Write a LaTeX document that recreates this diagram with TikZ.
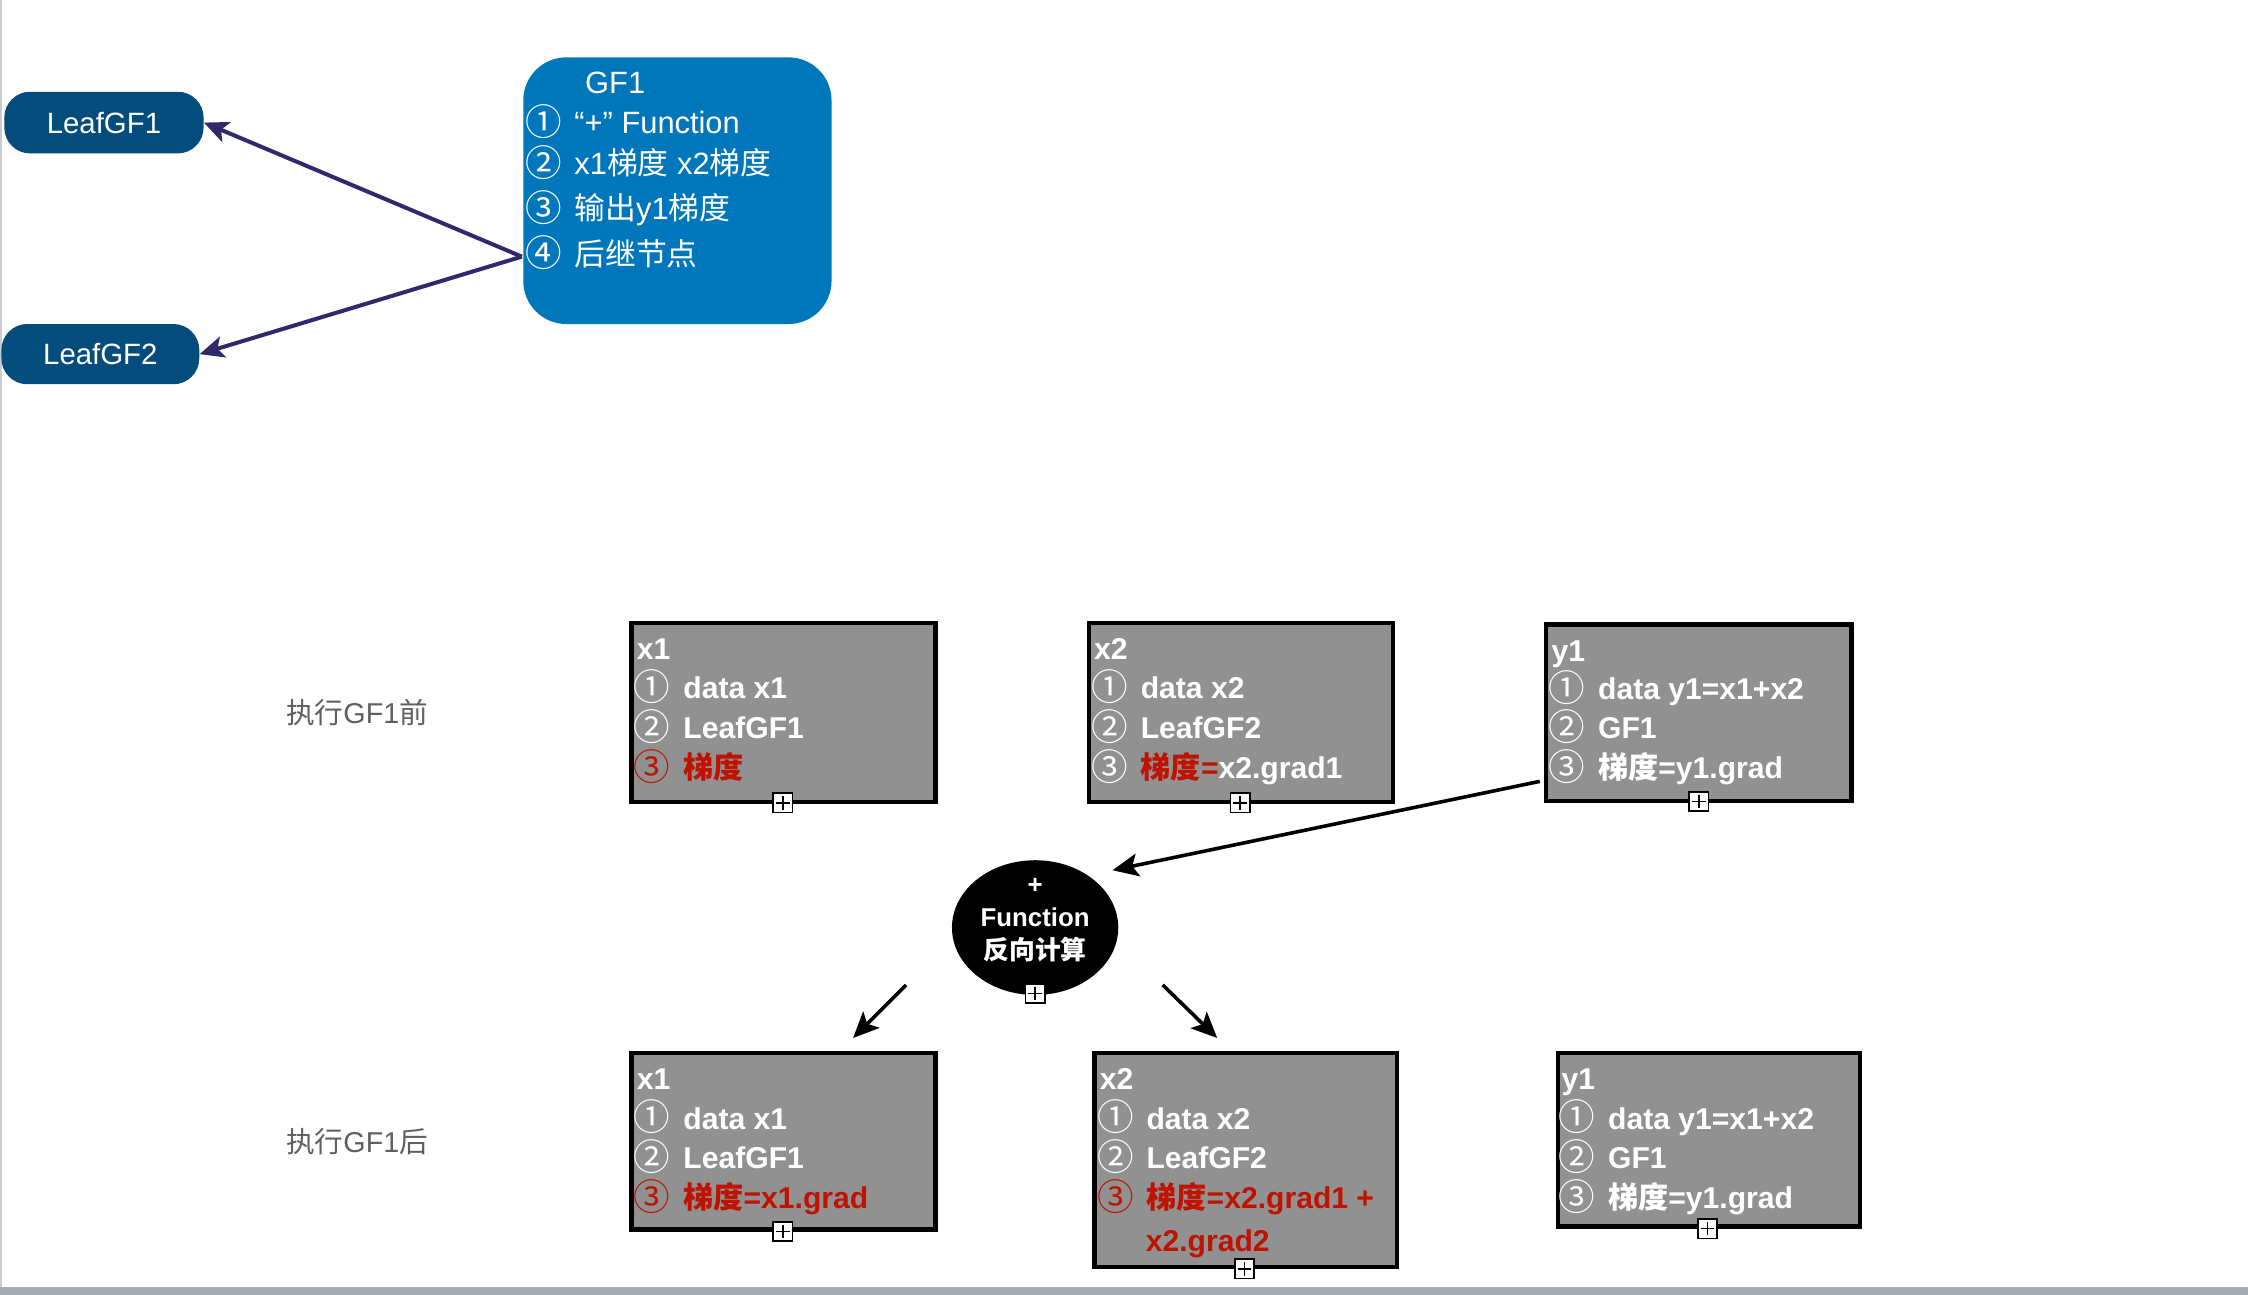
\documentclass[tikz,border=0pt]{standalone}
\usepackage{fontspec}
\setmainfont{Liberation Sans}
\newfontfamily\cjk{Noto Sans CJK SC}
\usetikzlibrary{arrows.meta,shapes.geometric}
\definecolor{leafblue}{RGB}{4,76,124}
\definecolor{gfblue}{RGB}{0,118,187}
\definecolor{navyline}{RGB}{47,42,107}
\definecolor{boxgray}{RGB}{145,145,145}
\definecolor{txtred}{RGB}{192,18,0}
\definecolor{lblgray}{RGB}{96,96,96}
\definecolor{edgegray}{RGB}{168,173,181}
\definecolor{leftgray}{RGB}{200,204,210}
\newcommand\zh[1]{{\cjk #1}}
\newcommand\cnum[1]{\raisebox{-1.2pt}{\cjk\mdseries\fontsize{25.5}{26}\selectfont #1}\hspace{9pt}}
\begin{document}
\begin{tikzpicture}[x=1pt,y=-1pt,
  leaf/.style={rectangle, rounded corners=18pt, fill=leafblue, text=white,
    font=\fontsize{20.5}{24}\selectfont, inner sep=0pt},
  gfbox/.style={rectangle, rounded corners=30pt, fill=gfblue, inner sep=0pt,
    minimum width=215pt, minimum height=186pt},
  gftxt/.style={anchor=base west, inner sep=0pt, text=white,
    font=\fontsize{21.5}{26}\selectfont},
  gbox/.style={rectangle, draw=black, line width=3pt, fill=boxgray,
    inner sep=0pt, anchor=north west},
  gtxt/.style={anchor=base west, inner sep=0pt, text=white,
    font=\bfseries\fontsize{21}{26}\selectfont},
  rtxt/.style={gtxt, text=txtred},
  lbl/.style={inner sep=0pt, text=lblgray, font=\fontsize{20}{24}\selectfont},
  plusbox/.style={rectangle, draw=black, fill=white, line width=1.1pt,
    minimum size=13.5pt, inner sep=0pt,
    path picture={
      \draw[line width=1pt] ([yshift=-2pt]path picture bounding box.north) -- ([yshift=2pt]path picture bounding box.south);
      \draw[line width=1pt] ([xshift=2pt]path picture bounding box.west) -- ([xshift=-2pt]path picture bounding box.east);
    }},
  navyarrow/.style={draw=navyline, line width=2.8pt,
    -{Stealth[length=17pt,width=15pt,inset=4pt]}},
  blkarrow/.style={draw=black, line width=2.5pt,
    -{Stealth[length=18pt,width=16pt,inset=4pt]}}
]
\useasboundingbox (0,0) rectangle (1568,903);
\fill[white] (0,0) rectangle (1568,903);
% frame edges
\fill[leftgray] (0,0) rectangle (1.5,898);
\fill[edgegray] (0,898) rectangle (1568,903);

% ---------- top part ----------
\node[leaf, minimum width=139pt, minimum height=43pt] (leaf1) at (72.5,85.5) {LeafGF1};
\node[leaf, minimum width=138pt, minimum height=42pt] (leaf2) at (70,247) {LeafGF2};
\node[gfbox] (gf1) at (472.5,133) {};
\node[gftxt] (gf1l0) at (408,65) {GF1};
\node[gftxt] (gf1l1) at (366,93) {\cnum{①}“+” Function};
\node[gftxt] (gf1l2) at (366,122) {\cnum{②}x1\zh{梯度} x2\zh{梯度}};
\node[gftxt] (gf1l3) at (366,153) {\cnum{③}\zh{输出}y1\zh{梯度}};
\node[gftxt] (gf1l4) at (366,185) {\cnum{④}\zh{后继节点}};
\coordinate (gfport) at (364,179);
\draw[navyarrow] (gfport) -- (leaf1.east);
\draw[navyarrow] (gfport) -- (leaf2.east);

% ---------- labels ----------
\node[lbl] (before) at (249,497) {\zh{执行}GF1\zh{前}};
\node[lbl] (after) at (249,796) {\zh{执行}GF1\zh{后}};

% ---------- before boxes ----------
\node[gbox, minimum width=212pt, minimum height=125pt] (x1a) at (439,433) {};
\node[gtxt] (x1al0) at (444,460) {x1};
\node[gtxt] (x1al1) at (442,487.5) {\cnum{①}data x1};
\node[gtxt] (x1al2) at (442,515) {\cnum{②}LeafGF1};
\node[rtxt] (x1al3) at (442,543) {\cnum{③}\zh{梯度}};
\node[plusbox] (x1ap) at (546,560) {};

\node[gbox, minimum width=212pt, minimum height=125pt] (x2a) at (758,433) {};
\node[gtxt] (x2al0) at (763,460) {x2};
\node[gtxt] (x2al1) at (761,487.5) {\cnum{①}data x2};
\node[gtxt] (x2al2) at (761,515) {\cnum{②}LeafGF2};
\node[gtxt] (x2al3) at (761,543) {\cnum{③}\textcolor{txtred}{\zh{梯度}=}x2.grad1};
\node[plusbox] (x2ap) at (865,560) {};

\node[gbox, minimum width=213pt, minimum height=123pt] (y1a) at (1077,434) {};
\node[gtxt] (y1al0) at (1082,461.5) {y1};
\node[gtxt] (y1al1) at (1080,488) {\cnum{①}data y1=x1+x2};
\node[gtxt] (y1al2) at (1080,515) {\cnum{②}GF1};
\node[gtxt] (y1al3) at (1080,543) {\cnum{③}\zh{梯度}=y1.grad};
\node[plusbox] (y1ap) at (1185,559) {};

% ---------- function ----------
\node[ellipse, fill=black, minimum width=116pt, minimum height=94pt, inner sep=0pt] (fn) at (722,647) {};
\node[align=center, inner sep=0pt, text=white, font=\bfseries\fontsize{18}{23}\selectfont] (fntxt) at (722,642) {+\\Function\\\zh{反向计算}};
\node[plusbox] (fnp) at (722,693) {};

\coordinate (y1port) at (1074,545);
\coordinate (fnin) at (776,607);
\draw[blkarrow] (y1port) -- (fnin);
\coordinate (fnout1) at (632,687);
\coordinate (x1in) at (595,724);
\draw[blkarrow] (fnout1) -- (x1in);
\coordinate (fnout2) at (811,687);
\coordinate (x2in) at (849,724);
\draw[blkarrow] (fnout2) -- (x2in);

% ---------- after boxes ----------
\node[gbox, minimum width=212pt, minimum height=123pt] (x1b) at (439,733) {};
\node[gtxt] (x1bl0) at (444,760) {x1};
\node[gtxt] (x1bl1) at (442,787.5) {\cnum{①}data x1};
\node[gtxt] (x1bl2) at (442,815) {\cnum{②}LeafGF1};
\node[rtxt] (x1bl3) at (442,843) {\cnum{③}\zh{梯度}=x1.grad};
\node[plusbox] (x1bp) at (546,859) {};

\node[gbox, minimum width=211pt, minimum height=149pt] (x2b) at (762,733) {};
\node[gtxt] (x2bl0) at (767,760) {x2};
\node[gtxt] (x2bl1) at (765,787.5) {\cnum{①}data x2};
\node[gtxt] (x2bl2) at (765,815) {\cnum{②}LeafGF2};
\node[rtxt] (x2bl3) at (765,843) {\cnum{③}\zh{梯度}=x2.grad1 +};
\node[rtxt] (x2bl4) at (799,873) {x2.grad2};
\node[plusbox] (x2bp) at (868,885) {};

\node[gbox, minimum width=211pt, minimum height=121pt] (y1b) at (1085,733) {};
\node[gtxt] (y1bl0) at (1089,760) {y1};
\node[gtxt] (y1bl1) at (1087,787.5) {\cnum{①}data y1=x1+x2};
\node[gtxt] (y1bl2) at (1087,815) {\cnum{②}GF1};
\node[gtxt] (y1bl3) at (1087,843) {\cnum{③}\zh{梯度}=y1.grad};
\node[plusbox] (y1bp) at (1191,857) {};
\end{tikzpicture}
\end{document}
